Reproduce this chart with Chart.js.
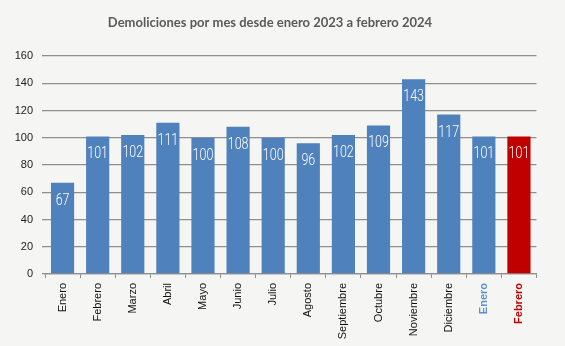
<!DOCTYPE html>
<html>
<head>
<meta charset="utf-8">
<script src="https://cdn.jsdelivr.net/npm/chart.js@4"></script>
<style>
  html, body { margin: 0; padding: 0; background: #f5f5f3; }
</style>
</head>
<body>
<canvas id="demolicionesChart" width="565" height="346"></canvas>
<script>
// Datos
const meses = ['Enero', 'Febrero', 'Marzo', 'Abril', 'Mayo', 'Junio', 'Julio', 'Agosto',
               'Septiembre', 'Octubre', 'Noviembre', 'Diciembre', 'Enero', 'Febrero'];
const demoliciones = [67, 101, 102, 111, 100, 108, 100, 96, 102, 109, 143, 117, 101, 101];
const yTicks = [0, 20, 40, 60, 80, 100, 120, 140, 160];
const titulo = 'Demoliciones por mes desde enero 2023 a febrero 2024';

const AZUL = '#4f81bd';
const ROJO = '#c00000';
const last = meses.length - 1;

// Title drawn at a fixed spot (reference is not centred on the canvas)
const titlePlugin = {
    id: 'fixedTitle',
    afterDraw(chart) {
        const ctx = chart.ctx;
        ctx.save();
        ctx.font = 'bold 13px Lato, "Open Sans", sans-serif';
        ctx.fillStyle = '#5a5a5a';
        ctx.textAlign = 'center';
        ctx.textBaseline = 'middle';
        ctx.fillText(titulo, 270, 23);
        ctx.restore();
    }
};

// White value labels inside the top of each bar (condensed look)
const valueLabels = {
    id: 'valueLabels',
    afterDatasetsDraw(chart) {
        const ctx = chart.ctx;
        const meta = chart.getDatasetMeta(0);
        ctx.save();
        ctx.font = '300 16px Roboto, sans-serif';
        ctx.fillStyle = '#ffffff';
        ctx.textAlign = 'center';
        ctx.textBaseline = 'middle';
        meta.data.forEach((bar, i) => {
            ctx.save();
            ctx.translate(bar.x, bar.y + 18);
            ctx.scale(0.78, 1);
            ctx.fillText(String(demoliciones[i]), 0, 0);
            ctx.restore();
        });
        ctx.restore();
    }
};

new Chart(document.getElementById('demolicionesChart'), {
    type: 'bar',
    data: {
        labels: meses,
        datasets: [{
            data: demoliciones,
            backgroundColor: demoliciones.map((v, i) => i === last ? ROJO : AZUL),
            borderWidth: 0,
            barPercentage: 0.66,
            categoryPercentage: 1
        }]
    },
    options: {
        responsive: false,
        animation: false,
        devicePixelRatio: 1,
        layout: { padding: { left: 0, right: 28.5, top: 56, bottom: 0 } },
        plugins: {
            legend: { display: false },
            tooltip: { enabled: false }
        },
        scales: {
            y: {
                min: 0,
                max: 160,
                afterBuildTicks(scale) {
                    scale.ticks = yTicks.map(v => ({ value: v }));
                },
                afterFit(scale) { scale.width = 45; },
                border: { display: false },
                grid: {
                    color: '#8f8f8f',
                    lineWidth: 1.3,
                    tickLength: 3
                },
                ticks: {
                    color: '#222222',
                    padding: 9,
                    font: { family: '"Liberation Sans", Arial, sans-serif', size: 11 }
                }
            },
            x: {
                afterFit(scale) { scale.height = 72; },
                border: { display: true, color: '#8f8f8f', width: 1.3 },
                grid: {
                    offset: true,
                    drawOnChartArea: false,
                    drawTicks: true,
                    tickLength: 4,
                    color: '#8f8f8f'
                },
                ticks: {
                    minRotation: 90,
                    maxRotation: 90,
                    autoSkip: false,
                    padding: 5,
                    color: ctx => ctx.index === last ? ROJO : (ctx.index === last - 1 ? '#5b8fd0' : '#111111'),
                    font: ctx => ({
                        family: '"Liberation Sans", Arial, sans-serif',
                        size: 11,
                        weight: ctx.index >= last - 1 ? 'bold' : 'normal'
                    })
                }
            }
        }
    },
    plugins: [titlePlugin, valueLabels]
});
</script>
</body>
</html>
